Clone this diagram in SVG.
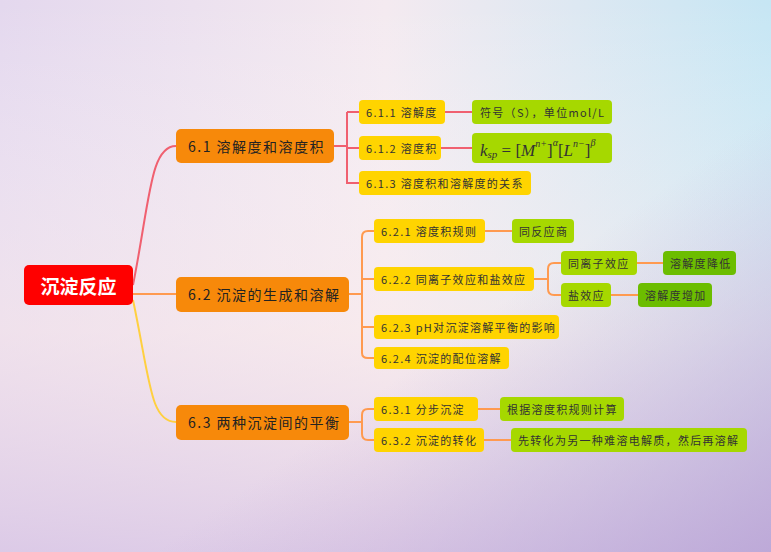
<svg xmlns="http://www.w3.org/2000/svg" width="771" height="552" viewBox="0 0 771 552">
<defs>
<linearGradient id="bg1" x1="0" y1="0" x2="1" y2="0"><stop offset="0" stop-color="#e4d8ee"/><stop offset="0.5" stop-color="#f4eaf0"/><stop offset="1" stop-color="#c6e6f4"/></linearGradient>
<linearGradient id="bg2" x1="0" y1="0" x2="0" y2="1"><stop offset="0" stop-color="#fff" stop-opacity="0"/><stop offset="0.6" stop-color="#fbeaea" stop-opacity="0.5"/><stop offset="1" stop-color="#d8c4e4" stop-opacity="0.7"/></linearGradient>
<linearGradient id="bg3" x1="0" y1="0" x2="1" y2="1"><stop offset="0.6" stop-color="#c0a8d8" stop-opacity="0"/><stop offset="1" stop-color="#b8a0d4" stop-opacity="0.8"/></linearGradient>
<style>
text{font-family:"Noto Sans CJK SC","Noto Sans",sans-serif;dominant-baseline:central}
.l2{fill:#f7890a}.l3{fill:#ffd400}.g{fill:#a6d800}.dg{fill:#6cbd00}
.t2{font-size:14px;fill:#222;letter-spacing:1.5px}.t3{font-size:11px;fill:#333;letter-spacing:1.3px}
.c{fill:none;stroke-width:2}
.f{font-family:"Liberation Serif",serif;font-style:italic;font-size:17px;fill:#333}
</style>
</defs>
<rect width="771" height="552" fill="url(#bg1)"/>
<rect width="771" height="552" fill="url(#bg2)"/>
<rect width="771" height="552" fill="url(#bg3)"/>
<g id="connectors">
<path class="c" stroke="#f06070" d="M133,285 C150,200 150,146 176,146"/>
<path class="c" stroke="#ff9a50" d="M133,294 L176,294"/>
<path class="c" stroke="#ffd040" d="M133,300 C150,380 150,422 176,422"/>
<path class="c" stroke="#f06070" d="M334,146 H347 M347,112 V183 H359 M347,112 H359 M347,148 H359 M445,112 H472 M441,148 H472"/>
<path class="c" stroke="#ff9a50" d="M349,294 H362 M374,231 H368 Q362,231 362,237 V353 Q362,358 368,358 H374 M362,279 H374 M362,327 H374 M485,231 H512 M534,279 H548 M561,263 H554 Q548,263 548,269 V289 Q548,295 554,295 H561 M637,263 H663 M611,295 H638"/>
<path class="c" stroke="#ff9a50" d="M349,422 H362 M374,409 H368 Q362,409 362,415 V434 Q362,440 368,440 H374 M478,409 H500 M484,440 H511"/>
</g>
<g id="root"><rect x="24" y="265" width="109" height="40" rx="5" fill="#f00"/><text x="78.5" y="285" text-anchor="middle" font-size="19" font-weight="bold" fill="#fff">沉淀反应</text></g>
<g id="n61"><rect class="l2" x="176" y="129" width="158" height="34" rx="5"/><text class="t2" x="188" y="146">6.1 溶解度和溶度积</text></g>
<g id="n62"><rect class="l2" x="176" y="277" width="173" height="35" rx="5"/><text class="t2" x="188" y="294">6.2 沉淀的生成和溶解</text></g>
<g id="n63"><rect class="l2" x="176" y="405" width="173" height="35" rx="5"/><text class="t2" x="188" y="422">6.3 两种沉淀间的平衡</text></g>
<g id="n611"><rect class="l3" x="359" y="100" width="86" height="24" rx="4"/><text class="t3" x="366" y="112">6.1.1 溶解度</text></g>
<g id="n612"><rect class="l3" x="359" y="136" width="82" height="24" rx="4"/><text class="t3" x="366" y="148">6.1.2 溶度积</text></g>
<g id="n613"><rect class="l3" x="359" y="171" width="172" height="24" rx="4"/><text class="t3" x="366" y="183">6.1.3 溶度积和溶解度的关系</text></g>
<g id="n621"><rect class="l3" x="374" y="219" width="111" height="24" rx="4"/><text class="t3" x="381" y="231">6.2.1 溶度积规则</text></g>
<g id="n622"><rect class="l3" x="374" y="267" width="160" height="24" rx="4"/><text class="t3" x="381" y="279">6.2.2 同离子效应和盐效应</text></g>
<g id="n623"><rect class="l3" x="374" y="315" width="185" height="24" rx="4"/><text class="t3" x="381" y="327">6.2.3 pH对沉淀溶解平衡的影响</text></g>
<g id="n624"><rect class="l3" x="374" y="347" width="135" height="22" rx="4"/><text class="t3" x="381" y="358">6.2.4 沉淀的配位溶解</text></g>
<g id="n631"><rect class="l3" x="374" y="397" width="104" height="24" rx="4"/><text class="t3" x="381" y="409">6.3.1 分步沉淀</text></g>
<g id="n632"><rect class="l3" x="374" y="428" width="110" height="24" rx="4"/><text class="t3" x="381" y="440">6.3.2 沉淀的转化</text></g>
<g id="s1"><rect class="g" x="472" y="100" width="140" height="24" rx="4"/><text class="t3" x="480" y="112">符号（S），单位mol/L</text></g>
<g id="s2"><rect class="g" x="472" y="133" width="140" height="30" rx="4"/><text class="f" x="480" y="150">k<tspan font-size="11" dy="4">sp</tspan><tspan dy="-4" font-style="normal"> = [</tspan>M<tspan font-size="10" dy="-7">n+</tspan><tspan dy="7" font-style="normal">]</tspan><tspan font-size="10" dy="-8">α</tspan><tspan dy="8" font-style="normal">[</tspan>L<tspan font-size="10" dy="-7">n−</tspan><tspan dy="7" font-style="normal">]</tspan><tspan font-size="10" dy="-8">β</tspan></text></g>
<g id="s3"><rect class="g" x="512" y="219" width="62" height="24" rx="4"/><text class="t3" x="519" y="231">同反应商</text></g>
<g id="s4"><rect class="g" x="561" y="251" width="76" height="24" rx="4"/><text class="t3" x="568" y="263">同离子效应</text></g>
<g id="s5"><rect class="g" x="561" y="283" width="50" height="24" rx="4"/><text class="t3" x="568" y="295">盐效应</text></g>
<g id="s6"><rect class="dg" x="663" y="251" width="73" height="24" rx="4"/><text class="t3" x="670" y="263">溶解度降低</text></g>
<g id="s7"><rect class="dg" x="638" y="283" width="74" height="24" rx="4"/><text class="t3" x="645" y="295">溶解度增加</text></g>
<g id="s8"><rect class="g" x="500" y="397" width="124" height="24" rx="4"/><text class="t3" x="507" y="409">根据溶度积规则计算</text></g>
<g id="s9"><rect class="g" x="511" y="428" width="236" height="24" rx="4"/><text class="t3" x="518" y="440">先转化为另一种难溶电解质，然后再溶解</text></g>
</svg>
